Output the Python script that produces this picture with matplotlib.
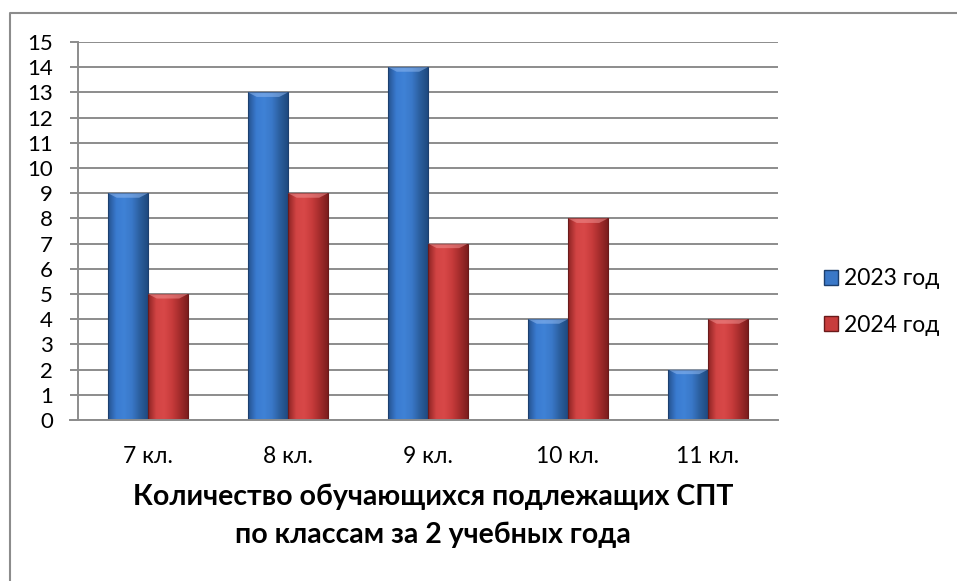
import numpy as np
import matplotlib
matplotlib.use("Agg")
import matplotlib.pyplot as plt
from matplotlib.lines import Line2D
from matplotlib.patches import Patch
from matplotlib.colors import LinearSegmentedColormap

categories = ["7 кл.", "8 кл.", "9 кл.", "10 кл.", "11 кл."]
series_names = ["2023 год", "2024 год"]
values_2023 = [9, 13, 14, 4, 2]
values_2024 = [5, 9, 7, 8, 4]
y_ticks = list(range(0, 16))

plt.rcParams['font.family'] = ['Lato', 'DejaVu Sans']

W, H = 957, 581
fig = plt.figure(figsize=(W / 100, H / 100), dpi=100)
fig.patch.set_facecolor('white')

# outer border (only top and left visible in the reference)
fig.add_artist(Line2D([9.5 / W, 9.5 / W, 1.01], [-0.01, 1 - 13 / H, 1 - 13 / H],
                      transform=fig.transFigure, color='#8c8c8c', linewidth=1.5))

ax = fig.add_axes([78 / W, (H - 420) / H, 700 / W, 378 / H])
ax.set_xlim(-0.5, len(categories) - 0.5)
ax.set_ylim(0, 15)

for s in ['top', 'right', 'bottom']:
    ax.spines[s].set_visible(False)
ax.spines['left'].set_color('#8c8c8c')
ax.spines['left'].set_linewidth(1.4)

ax.set_yticks(y_ticks)
ax.set_yticklabels([str(t) for t in y_ticks], fontsize=16)
ax.tick_params(axis='y', length=6, width=1.4, color='#8c8c8c', pad=12)
ax.yaxis.grid(True, color='#8c8c8c', linewidth=1.4)
ax.set_axisbelow(True)
ax.axhline(0, color='#8c8c8c', linewidth=1.4, xmin=-8 / 700, clip_on=False, zorder=5)

ax.set_xticks(range(len(categories)))
ax.set_xticklabels(categories, fontsize=16.5)
ax.tick_params(axis='x', length=0, pad=19)

bw = 40 / 140

blue_cmap = LinearSegmentedColormap.from_list(
    'b', ['#25528f', '#3a7bd0', '#3f82d6', '#3a78c8', '#2b5f9e', '#1f4a80'])
red_cmap = LinearSegmentedColormap.from_list(
    'r', ['#8e2424', '#d24444', '#d84848', '#c83c3c', '#a42c2c', '#7d1e1e'])

grad = np.linspace(0, 1, 64).reshape(1, -1)

def draw_bars(xs, vals, cmap, edge, top_col):
    bars = ax.bar(xs, vals, width=bw, color='none', edgecolor=edge,
                  linewidth=0.8, zorder=3)
    for b in bars:
        x0, y0 = b.get_x(), b.get_y()
        w, h = b.get_width(), b.get_height()
        im = ax.imshow(grad, cmap=cmap, aspect='auto',
                       extent=(x0, x0 + w, y0, y0 + h), zorder=2,
                       interpolation='bicubic')
        im.set_clip_path(b)
        bev = 0.18
        ax.fill([x0, x0 + w, x0 + w - w * 0.22, x0 + w * 0.22],
                [y0 + h, y0 + h, y0 + h - bev, y0 + h - bev],
                color=top_col, alpha=0.55, zorder=3, linewidth=0)
    return bars

x = np.arange(len(categories))
draw_bars(x - bw / 2, values_2023, blue_cmap, '#1c3f6e', '#8fb8f0')
draw_bars(x + bw / 2, values_2024, red_cmap, '#6a1a1a', '#f09090')
ax.set_xlim(-0.5, len(categories) - 0.5)
ax.set_ylim(0, 15)

handles = [Patch(facecolor='#3a78c8', edgecolor='#1c3f6e'),
           Patch(facecolor='#c83c3c', edgecolor='#6a1a1a')]
fig.legend(handles, series_names, loc='center left',
           bbox_to_anchor=(815 / W, 1 - 302 / H), frameon=False,
           fontsize=16.5, handlelength=0.62, handleheight=0.62,
           handletextpad=0.25, labelspacing=1.1, borderaxespad=0)

fig.text(433 / W, 1 - 497 / H, "Количество обучающихся подлежащих СПТ",
         ha='center', va='center', fontsize=20.5, fontweight='bold')
fig.text(433 / W, 1 - 535 / H, "по классам за 2 учебных года",
         ha='center', va='center', fontsize=20.5, fontweight='bold')

fig.savefig('out.png', dpi=100, facecolor='white')
